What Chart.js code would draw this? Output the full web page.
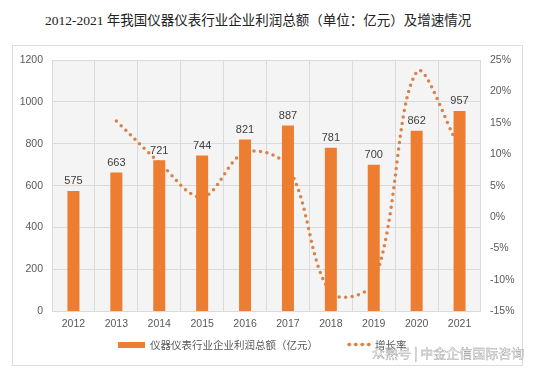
<!DOCTYPE html>
<html lang="zh">
<head>
  <meta charset="UTF-8">
  <title>仪器仪表行业企业利润总额</title>
  <script src="https://cdn.jsdelivr.net/npm/chart.js"></script>
  <style>
    body {
      margin: 0;
      background: #fff;
    }
    .wrap {
      position: relative;
      width: 538px;
      height: 373px;
    }
    .title {
      position: absolute;
      left: 45px;
      top: 9px;
      font: 13.5px "Liberation Serif", "Noto Sans CJK SC", serif;
      color: #222;
      white-space: nowrap;
    }
    .frame {
      position: absolute;
      left: 12px;
      top: 45px;
      width: 509px;
      height: 319px;
      border: 1px solid #dcdcdc;
    }
    #chart {
      position: absolute;
      left: 0;
      top: 0;
    }
    .legend {
      position: absolute;
      top: 337px;
      left: 118px;
      display: flex;
      align-items: center;
      font: 10.5px "Noto Sans CJK SC", sans-serif;
      color: #595959;
      white-space: nowrap;
    }
    .legend .box {
      width: 27px;
      height: 6px;
      background: #ED7D31;
      margin-right: 5px;
    }
    .legend .dots {
      width: 26px;
      height: 5px;
      margin-left: 28px;
      margin-right: 3px;
      background: radial-gradient(circle, #D9824A 1.7px, transparent 2.2px) repeat-x;
      background-size: 6.5px 5px;
    }
    .mark {
      position: absolute;
      left: 372px;
      top: 343px;
      font: 13px "Noto Sans CJK SC", sans-serif;
      color: rgba(255, 255, 255, 0.5);
      -webkit-text-stroke: 0.4px #999;
      white-space: nowrap;
    }
  </style>
</head>
<body>
  <div class="wrap">
    <div class="title">2012-2021 年我国仪器仪表行业企业利润总额（单位：亿元）及增速情况</div>
    <div class="frame"></div>
    <canvas id="chart" width="538" height="373"></canvas>
    <div class="legend">
      <span class="box"></span><span id="lg0"></span>
      <span class="dots"></span><span id="lg1"></span>
    </div>
    <div class="mark">众熟号 | 中金企信国际咨询</div>
  </div>

  <script>
    const years = ['2012', '2013', '2014', '2015', '2016', '2017', '2018', '2019', '2020', '2021'];
    const profit = [575, 663, 721, 744, 821, 887, 781, 700, 862, 957];
    const growth = [null, 15.3, 8.7, 3.2, 10.3, 8.0, -12.0, -10.4, 23.1, 11.0];
    const seriesNames = ['仪器仪表行业企业利润总额（亿元）', '增长率'];

    const barColor = '#ED7D31';
    const lineColor = '#D9824A';
    const textColor = '#595959';
    const tickFont = { family: 'Liberation Sans', size: 10.5 };

    document.getElementById('lg0').textContent = seriesNames[0];
    document.getElementById('lg1').textContent = seriesNames[1];

    // light grey plot background
    const plotBg = {
      id: 'plotBg',
      beforeDraw(chart) {
        const a = chart.chartArea;
        const ctx = chart.ctx;
        ctx.save();
        ctx.fillStyle = '#f4f4f4';
        ctx.fillRect(a.left, a.top, a.right - a.left, a.bottom - a.top);
        ctx.restore();
      }
    };

    // value labels above the bars
    const barLabels = {
      id: 'barLabels',
      afterDatasetsDraw(chart) {
        const ctx = chart.ctx;
        const meta = chart.getDatasetMeta(0);
        ctx.save();
        ctx.font = '11px "Liberation Sans"';
        ctx.fillStyle = '#404040';
        ctx.textAlign = 'center';
        ctx.textBaseline = 'bottom';
        meta.data.forEach((bar, i) => {
          ctx.fillText(profit[i], bar.x, bar.y - 4);
        });
        ctx.restore();
      }
    };

    new Chart(document.getElementById('chart'), {
      type: 'bar',
      data: {
        labels: years,
        datasets: [
          {
            label: seriesNames[0],
            data: profit,
            backgroundColor: barColor,
            barPercentage: 0.28,
            categoryPercentage: 1,
            yAxisID: 'y',
            order: 1
          },
          {
            type: 'line',
            label: seriesNames[1],
            data: growth,
            borderColor: lineColor,
            borderWidth: 3.5,
            borderDash: [0, 6.5],
            borderCapStyle: 'round',
            tension: 0.35,
            pointRadius: 0,
            fill: false,
            yAxisID: 'y1',
            order: 2
          }
        ]
      },
      options: {
        responsive: false,
        animation: false,
        layout: { padding: { top: 60, left: 0, right: 0, bottom: 37 } },
        plugins: {
          tooltip: { enabled: false },
          legend: { display: false }
        },
        scales: {
          x: {
            grid: { color: '#dadada', offset: true, drawTicks: false },
            border: { display: false },
            ticks: { color: textColor, font: tickFont, padding: 6 }
          },
          y: {
            position: 'left',
            min: 0,
            max: 1200,
            afterFit(scale) { scale.width = 52; },
            grid: { color: '#dadada', drawTicks: false },
            border: { display: false },
            ticks: {
              stepSize: 200,
              color: textColor,
              font: tickFont,
              padding: 9,
              callback: v => String(v)
            }
          },
          y1: {
            position: 'right',
            min: -15,
            max: 25,
            afterFit(scale) { scale.width = 57; },
            grid: { display: false, drawTicks: false },
            border: { display: false },
            ticks: {
              stepSize: 5,
              color: textColor,
              font: tickFont,
              padding: 9,
              callback: v => v + '%'
            }
          }
        }
      },
      plugins: [plotBg, barLabels]
    });
  </script>
</body>
</html>
